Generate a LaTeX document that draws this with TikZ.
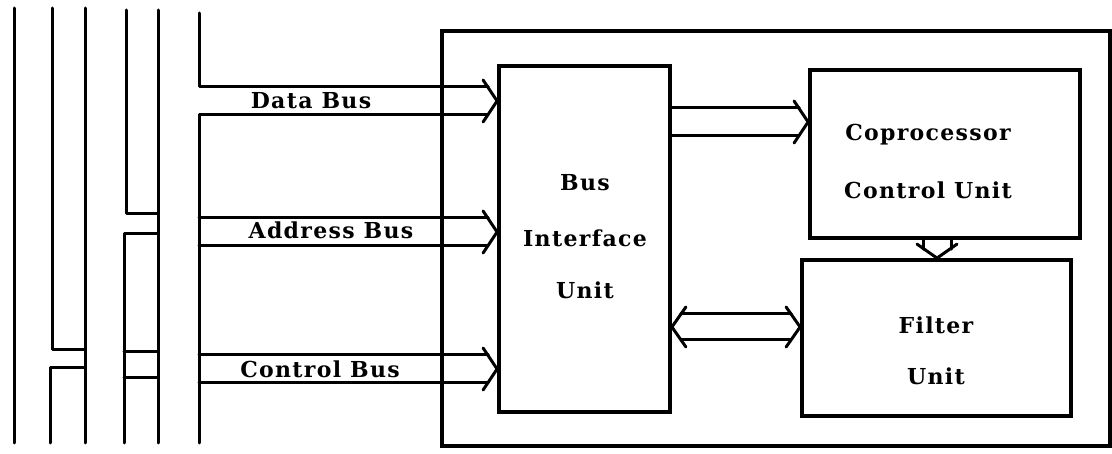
\documentclass[tikz,border=0pt]{standalone}
\usepackage{fontspec}
\setmainfont{DejaVu Serif}
\newfontfamily\lblfont[LetterSpace=6]{DejaVu Serif}
\usetikzlibrary{calc}
% barbs of hollow arrows: #1 tip coordinate, #2 half width of the double line
\newcommand\tipR[2]{\draw[wire] ($(#1)+(-14,-#2-7)$) -- (#1) -- ($(#1)+(-14,#2+7)$);}
\newcommand\tipL[2]{\draw[wire] ($(#1)+(14,-#2-7)$) -- (#1) -- ($(#1)+(14,#2+7)$);}
\newcommand\tipD[2]{\draw[wire] ($(#1)+(-#2-6,-14)$) -- (#1) -- ($(#1)+(#2+6,-14)$);}
\begin{document}
\begin{tikzpicture}[x=1pt,y=-1pt,
  wire/.style={line width=3pt, line cap=round, line join=round},
  blockbox/.style={draw, line width=3.8pt, inner sep=0pt},
  txt/.style={font=\lblfont\bfseries\fontsize{22}{26}\selectfont, inner sep=0pt, align=center}]
\useasboundingbox (0,0) rectangle (1112,454);

% frame and blocks
\node[blockbox, line width=3.2pt, minimum width=668pt, minimum height=415pt] (outer) at (776,238.5) {};
\node[blockbox, minimum width=171pt, minimum height=346pt] (biu) at (584.5,239) {};
\node[blockbox, minimum width=270pt, minimum height=168pt] (ccu) at (945,154) {};
\node[blockbox, minimum width=269pt, minimum height=156pt] (flt) at (936.5,338) {};

% block texts
\node[txt] (tbus) at (585,183) {Bus};
\node[txt] (tint) at (585,238) {Interface};
\node[txt] (tunit) at (585,290) {Unit};
\node[txt] (tcop) at (928,135) {Coprocessor};
\node[txt] (tcu) at (928,190) {Control Unit};
\node[txt] (tfil) at (936,325) {Filter};
\node[txt] (tfu) at (936,376) {Unit};

% system bus lines on the left
\draw[wire] (14,8) -- (14,443);
\draw[wire] (52,8) -- (52,350) -- (85,350);
\draw[wire] (85,368) -- (50,368) -- (50,443);
\draw[wire] (85,8) -- (85,443);
\draw[wire] (126,10) -- (126,214) -- (158,214);
\draw[wire] (158,234) -- (124,234) -- (124,443);
\draw[wire] (124,352) -- (158,352);
\draw[wire] (124,378) -- (158,378);
\draw[wire] (158,10) -- (158,443);

% bus centre lines
\coordinate (dL) at (199,101);
\coordinate (aL) at (199,232);
\coordinate (cL) at (199,369);
\coordinate (dT) at (biu.west |- dL);
\coordinate (aT) at (biu.west |- aL);
\coordinate (cT) at (biu.west |- cL);

% Data Bus
\draw[wire] (199,13) -- (199,87) -- ($(dT)+(-9,-14)$);
\draw[wire] (199,443) -- (199,115) -- ($(dT)+(-9,14)$);
\tipR{dT}{14}
% Address Bus
\draw[wire] ($(aL)+(0,-14)$) -- ($(aT)+(-9,-14)$);
\draw[wire] ($(aL)+(0,14)$) -- ($(aT)+(-9,14)$);
\tipR{aT}{14}
% Control Bus
\draw[wire] ($(cL)+(0,-14)$) -- ($(cT)+(-9,-14)$);
\draw[wire] ($(cL)+(0,14)$) -- ($(cT)+(-9,14)$);
\tipR{cT}{14}

\node[txt] (ldata) at (311,101) {Data Bus};
\node[txt] (laddr) at (331,230) {Address Bus};
\node[txt] (lctrl) at (320,369) {Control Bus};

% BIU -> CCU
\coordinate (bcS) at (biu.east |- 0,122);
\coordinate (bcT) at (ccu.west |- 0,122);
\draw[wire] ($(bcS)+(0,-14)$) -- ($(bcT)+(-9,-14)$);
\draw[wire] ($(bcS)+(0,14)$) -- ($(bcT)+(-9,14)$);
\tipR{bcT}{14}

% CCU -> Filter
\coordinate (cfS) at (ccu.south -| 937,0);
\coordinate (cfT) at (flt.north -| 937,0);
\draw[wire] ($(cfS)+(-14,0)$) -- ($(cfT)+(-14,-9)$);
\draw[wire] ($(cfS)+(14,0)$) -- ($(cfT)+(14,-9)$);
\tipD{cfT}{14}

% BIU <-> Filter
\coordinate (bfL) at (biu.east |- 0,327);
\coordinate (bfR) at (flt.west |- 0,327);
\draw[wire] ($(bfL)+(9,-13)$) -- ($(bfR)+(-9,-13)$);
\draw[wire] ($(bfL)+(9,13)$) -- ($(bfR)+(-9,13)$);
\tipL{bfL}{13}
\tipR{bfR}{13}
\end{tikzpicture}
\end{document}
